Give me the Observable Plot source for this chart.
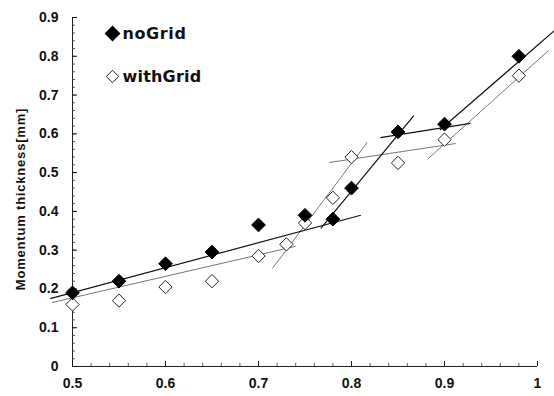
<!DOCTYPE html>
<html>
<head>
<meta charset="utf-8">
<script src="https://cdn.jsdelivr.net/npm/d3@7"></script>
<script src="https://cdn.jsdelivr.net/npm/@observablehq/plot@0.6"></script>
<style>
  html, body { margin: 0; padding: 0; background: #fff; }
  #chart { width: 554px; height: 396px; }
</style>
</head>
<body>
<div id="chart"></div>
<script>
// ---- data ----
const noGridX = [0.5, 0.55, 0.6, 0.65, 0.7, 0.75, 0.78, 0.8, 0.85, 0.9, 0.98];
const noGridY = [0.19, 0.22, 0.265, 0.295, 0.365, 0.39, 0.38, 0.46, 0.605, 0.625, 0.80];

const withGridX = [0.5, 0.55, 0.6, 0.65, 0.7, 0.73, 0.75, 0.78, 0.8, 0.85, 0.9, 0.98];
const withGridY = [0.16, 0.17, 0.205, 0.22, 0.285, 0.315, 0.37, 0.435, 0.54, 0.525, 0.585, 0.75];

// fitted segments [x1, y1, x2, y2]
const noGridFits = [
  [0.476, 0.175, 0.81, 0.39],
  [0.767, 0.356, 0.867, 0.647],
  [0.831, 0.59, 0.928, 0.627],
  [0.895, 0.61, 1.02, 0.87]
];
const withGridFits = [
  [0.478, 0.165, 0.74, 0.31],
  [0.715, 0.253, 0.817, 0.578],
  [0.776, 0.526, 0.912, 0.575],
  [0.882, 0.535, 1.012, 0.815]
];

const xTickValues = [0.5, 0.6, 0.7, 0.8, 0.9, 1];
const yTickValues = [0, 0.1, 0.2, 0.3, 0.4, 0.5, 0.6, 0.7, 0.8, 0.9];
const yTitle = "Momentum thickness[mm]";
const seriesNames = ["noGrid", "withGrid"];

// ---- build tables ----
const noGrid = noGridX.map((x, i) => ({x, y: noGridY[i]}));
const withGrid = withGridX.map((x, i) => ({x, y: withGridY[i]}));
const toSeg = s => ({x1: s[0], y1: s[1], x2: s[2], y2: s[3]});
const minorX = d3.range(0.5, 1.0001, 0.02);
const minorY = d3.range(0, 0.9001, 0.02);

const font = "'Liberation Sans', Arial, sans-serif";
const legendFont = "'DejaVu Sans', sans-serif";

const chart = Plot.plot({
  width: 554,
  height: 396,
  marginLeft: 72,
  marginRight: 17,
  marginTop: 17,
  marginBottom: 30,
  x: {domain: [0.5, 1]},
  y: {domain: [0, 0.9]},
  style: {fontFamily: font, background: "#fff", color: "#111"},
  marks: [
    Plot.ruleX([0.5], {stroke: "#222", strokeWidth: 1}),
    Plot.ruleY([0], {stroke: "#222", strokeWidth: 1}),
    Plot.axisX({ticks: minorX, tickSize: -3, text: null, stroke: "#333", strokeWidth: 0.8}),
    Plot.axisY({ticks: minorY, tickSize: -3, text: null, stroke: "#333", strokeWidth: 0.8}),
    Plot.axisX({ticks: xTickValues, tickSize: -5, tickPadding: 17, label: null,
      fontSize: 14, fontWeight: "bold", tickFormat: d => String(d)}),
    Plot.axisY({ticks: yTickValues, tickSize: -5, tickPadding: 19, label: null,
      fontSize: 14, fontWeight: "bold", tickFormat: d => String(d)}),
    Plot.text([yTitle], {text: d => d, frameAnchor: "left", textAnchor: "middle", lineAnchor: "middle",
      rotate: -90, dx: -52, dy: 7, fontSize: 13, fontWeight: "bold", fill: "#111"}),
    Plot.link(withGridFits.map(toSeg), {x1: "x1", y1: "y1", x2: "x2", y2: "y2",
      stroke: "#777", strokeWidth: 1}),
    Plot.link(noGridFits.map(toSeg), {x1: "x1", y1: "y1", x2: "x2", y2: "y2",
      stroke: "#111", strokeWidth: 1.2}),
    Plot.dot(withGrid, {x: "x", y: "y", symbol: "diamond2", r: 6, fill: "#fff", stroke: "#222", strokeWidth: 1}),
    Plot.dot(noGrid, {x: "x", y: "y", symbol: "diamond2", r: 6.2, fill: "#000", stroke: "#000", strokeWidth: 1}),
    Plot.dot([seriesNames[0]], {frameAnchor: "top-left", dx: 40, dy: 16, symbol: "diamond2", r: 6.2, fill: "#000", stroke: "#000"}),
    Plot.text([seriesNames[0]], {text: d => d, frameAnchor: "top-left", dx: 50, dy: 16, textAnchor: "start", lineAnchor: "middle",
      fontSize: 16, fontWeight: "bold", fill: "#111", fontFamily: legendFont}),
    Plot.dot([seriesNames[1]], {frameAnchor: "top-left", dx: 40, dy: 59, symbol: "diamond2", r: 5.6, fill: "#fff", stroke: "#222", strokeWidth: 1}),
    Plot.text([seriesNames[1]], {text: d => d, frameAnchor: "top-left", dx: 50, dy: 59, textAnchor: "start", lineAnchor: "middle",
      fontSize: 16, fontWeight: "bold", fill: "#111", fontFamily: legendFont})
  ]
});

// letter spacing tweaks
const sel = d3.select(chart);
sel.selectAll("text").filter(function() { return this.textContent === yTitle; })
  .attr("letter-spacing", "0.8px");
sel.selectAll("text").filter(function() { return this.textContent === seriesNames[0]; })
  .attr("letter-spacing", "0.6px");
sel.selectAll("text").filter(function() { return this.textContent === seriesNames[1]; })
  .attr("letter-spacing", "0.2px");

document.getElementById("chart").appendChild(chart);
</script>
</body>
</html>
